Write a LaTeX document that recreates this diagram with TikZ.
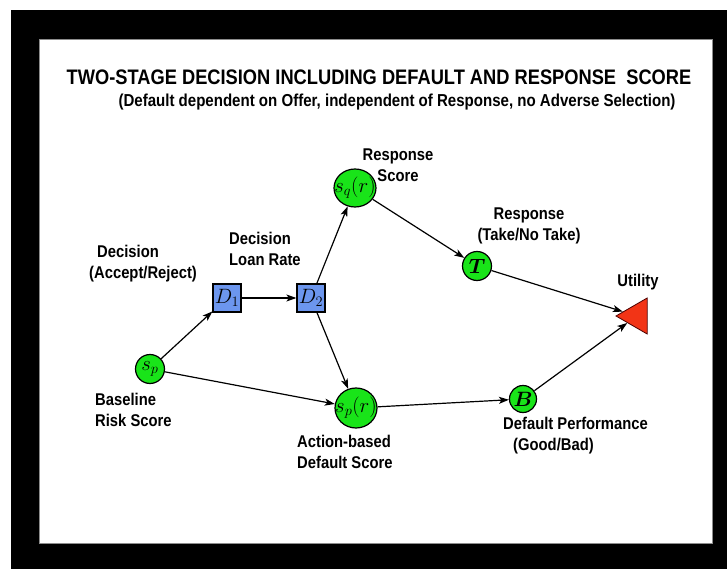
\documentclass[tikz,border=0pt]{standalone}
\usepackage{bm}
\usepackage{fontspec}
\setmainfont{Liberation Sans}
\newfontfamily\narrowsans[FakeStretch=0.87]{Liberation Sans}
\usetikzlibrary{shapes.geometric, arrows, arrows.meta, positioning}
\definecolor{chancegreen}{RGB}{25,228,25}
\definecolor{decblue}{RGB}{108,150,238}
\definecolor{utilred}{RGB}{242,52,22}
\newcommand{\nodemath}[1]{\makebox[0pt]{$#1$}}
\tikzstyle{chance} = [circle, minimum size=29pt, inner sep=0pt, draw=black, fill=chancegreen, line width=1.2pt, font=\huge]
\tikzstyle{score} = [ellipse, minimum width=42pt, minimum height=38pt, inner sep=0pt, draw=black, fill=chancegreen, line width=1.2pt, font=\huge]
\tikzstyle{decbox} = [rectangle, minimum size=28pt, inner sep=0pt, draw=black, fill=decblue, line width=1.2pt, font=\huge]
\tikzstyle{utility} = [regular polygon, regular polygon sides=3, rotate=90, minimum size=41.6pt, inner sep=0pt, draw=black!70!red, line width=0.8pt, fill=utilred]
\tikzstyle{lbl} = [align=left, inner sep=0pt, font=\narrowsans\bfseries\fontsize{17}{21}\selectfont]
\tikzstyle{arrow} = [line width=1.2pt,-{Stealth[length=10pt,width=7pt,inset=2.5pt]}]

\begin{document}
\begin{tikzpicture}[x=1pt, y=-1pt]
	\useasboundingbox (0,0) rectangle (727,569);
	% frame
	\fill[white] (0,0) rectangle (727,569);
	\fill[black] (11,10) rectangle (727,569);
	\filldraw[fill=white, draw=black!45, line width=0.8pt] (39,39) rectangle (712,543);
	% heading
	\node (title) at (379,77) [font=\narrowsans\bfseries\fontsize{21}{25}\selectfont]{TWO-STAGE DECISION INCLUDING DEFAULT AND RESPONSE\ \ SCORE};
	\node (subtitle) at (397,102) [font=\narrowsans\bfseries\fontsize{17.3}{20}\selectfont]{(Default dependent on Offer, independent of Response, no Adverse Selection)};
	% nodes
	\node (sp)[chance] at (150,369){\nodemath{s_p}};
	\node (d1)[decbox] at (227,298){\nodemath{D_1}};
	\node (d2)[decbox] at (311,298){\nodemath{D_2}};
	\node (sqr)[score] at (355,188){\nodemath{s_q(r)}};
	\node (spr)[score, minimum height=40pt] at (356,408){\nodemath{s_p(r)}};
	\node (take)[chance] at (477,266){\nodemath{\bm{T}}};
	\node (perf)[chance, minimum size=27pt] at (523,399){\nodemath{\bm{B}}};
	\node (util)[utility] at (636.8,316){};
	% labels
	\node (lbldec)[lbl, anchor=west] at (89,264){\hspace*{8pt}Decision\\(Accept/Reject)};
	\node (lblrate)[lbl, anchor=west] at (229,248.5){Decision\\Loan Rate};
	\node (lblrscore)[lbl, align=center] at (398,165){Response\\Score};
	\node (lbltake)[lbl, align=center] at (529,226){Response\\(Take/No Take)};
	\node (lblutil)[lbl] at (638,282){Utility};
	\node (lblbase)[lbl, anchor=west] at (95,410){Baseline\\Risk Score};
	\node (lblaction)[lbl, anchor=west] at (297,452){Action-based\\Default Score};
	\node (lblperf)[lbl, anchor=west] at (503,436){Default Performance\\\hspace*{10pt}(Good/Bad)};
	% connectors
	\draw [arrow] (sp) -- (d1);
	\draw [arrow] (d1) -- (d2);
	\draw [arrow] (d2) -- (sqr);
	\draw [arrow] (d2) -- (spr);
	\draw [arrow] (sp) -- (spr);
	\draw [arrow] (sqr) -- (take);
	\draw [arrow] (take) -- (util);
	\draw [arrow] (spr) -- (perf);
	\draw [arrow] (perf) -- (util);
\end{tikzpicture}
\end{document}
